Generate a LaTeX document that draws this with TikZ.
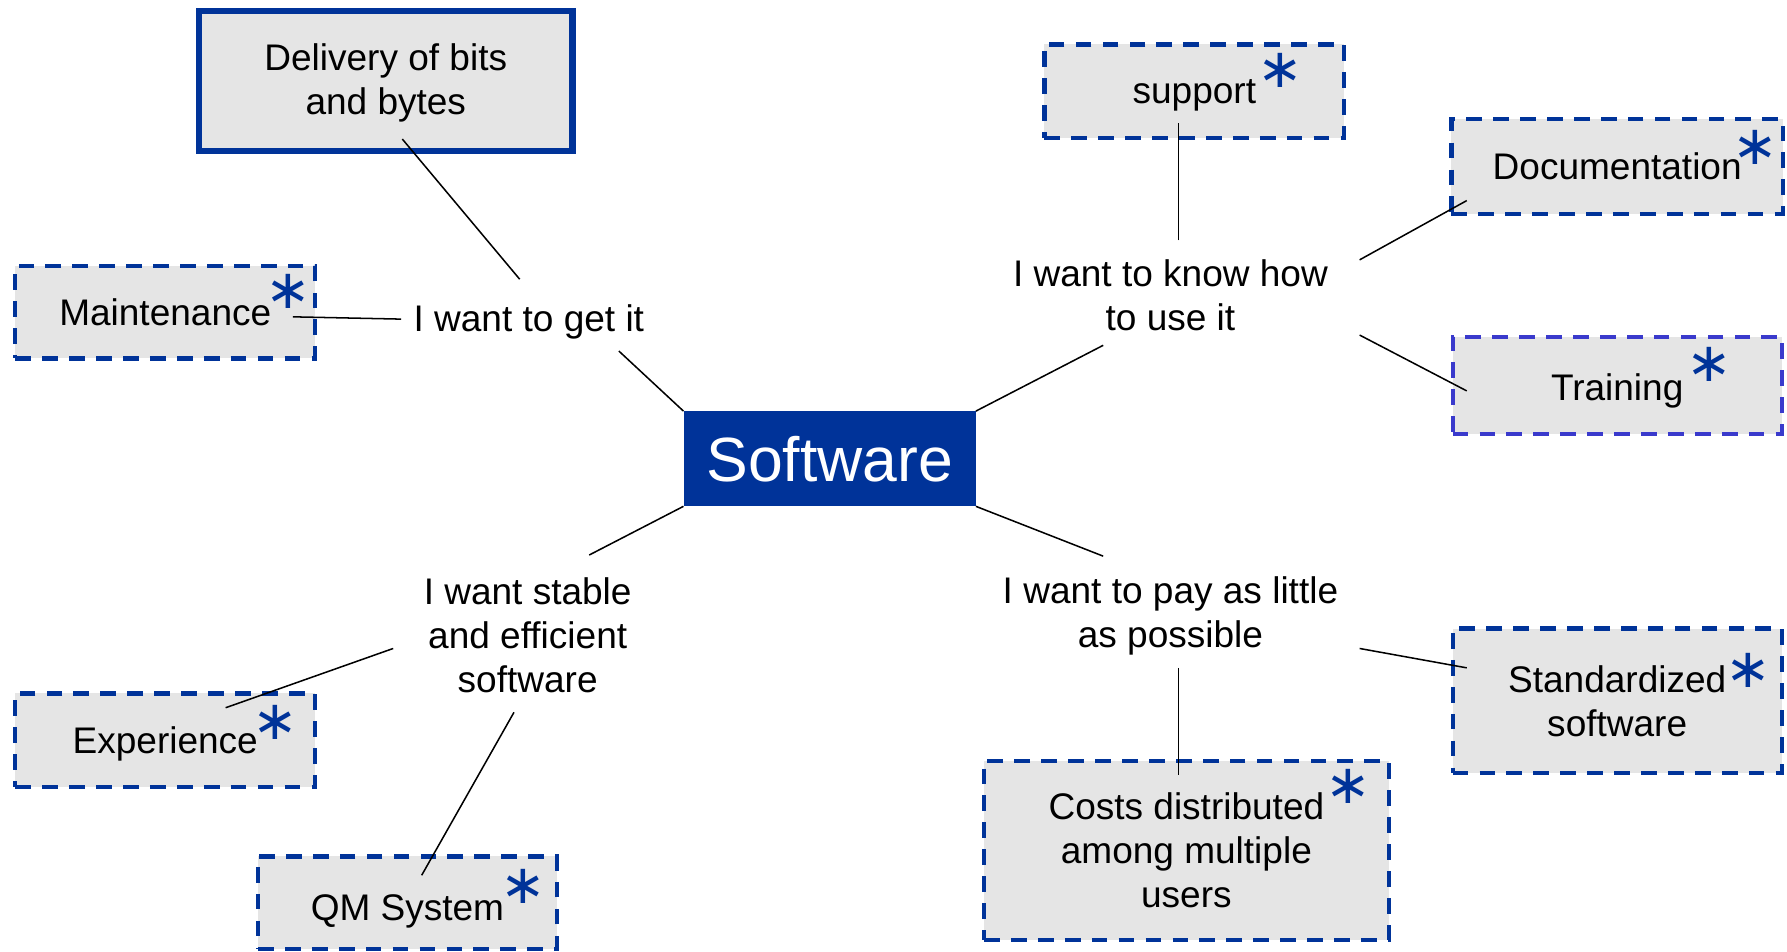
\documentclass[tikz,border=0pt]{standalone}
\usepackage{fontspec}
\setmainfont{Liberation Sans}
\newfontfamily\djv{DejaVu Sans}
\begin{document}
\begin{tikzpicture}[x=0.025cm,y=-0.025cm,
  every node/.style={font=\fontsize{23.1pt}{27.4pt}\selectfont, align=center, inner sep=0pt, text depth=0pt},
  bluebox/.style={draw=boxblue, fill=boxgray, line width=2.6pt, dash pattern=on 9.8pt off 7pt},
  hub/.style={text=black},
  conn/.style={draw=black, line width=0.95pt},
  ast/.style={text=boxblue, anchor=center, inner sep=0pt, text depth=0pt, font=\djv\fontsize{34pt}{34pt}\selectfont}
]
\definecolor{boxblue}{HTML}{003399}
\definecolor{trainblue}{HTML}{3A3ACC}
\definecolor{boxgray}{HTML}{E5E5E5}
\useasboundingbox (0,0) rectangle (1568,835);

% boxes
\node[draw=boxblue, fill=boxgray, line width=3.8pt, text depth=2.5pt, minimum width=8.19cm, minimum height=3.07cm] (deliv) at (338.5,71) {Delivery of bits\\and bytes};
\node[bluebox, minimum width=6.575cm, minimum height=2.025cm] (maint) at (145,274) {Maintenance};
\node[bluebox, minimum width=6.575cm, minimum height=2.05cm] (support) at (1048,80) {support};
\node[bluebox, minimum width=7.27cm, minimum height=2.07cm] (doc) at (1419,146) {Documentation};
\node[bluebox, draw=trainblue, text height=19.5pt, minimum width=7.22cm, minimum height=2.125cm] (train) at (1419,338) {Training};
\node[bluebox, minimum width=7.22cm, minimum height=3.175cm] (std) at (1419,615) {Standardized\\software};
\node[bluebox, minimum width=8.875cm, minimum height=3.925cm] (costs) at (1041,746) {Costs distributed\\among multiple\\users};
\node[bluebox, minimum width=6.575cm, minimum height=2.05cm] (exp) at (145,649.5) {Experience};
\node[bluebox, text height=22.5pt, minimum width=6.55cm, minimum height=2.025cm] (qm) at (357.5,792) {QM System};

% centre
\node[fill=boxblue, text=white, font=\fontsize{39pt}{45pt}\selectfont, minimum width=6.4cm, minimum height=2.075cm] (soft) at (728,402.5) {Software};

% hub texts
\node[hub] (get) at (464,279) {I want to get it};
\node[hub] (know) at (1027,259) {I want to know how\\to use it};
\node[hub] (pay) at (1027,537) {I want to pay as little\\as possible};
\node[hub] (stable) at (463,557) {I want stable\\and efficient\\software};

% asterisks
\node[ast] (a1) at (253,256) {∗};
\node[ast] (a2) at (1123,62) {∗};
\node[ast] (a3) at (1540,129) {∗};
\node[ast] (a4) at (1500,320) {∗};
\node[ast] (a5) at (1534,588) {∗};
\node[ast] (a6) at (1183,690) {∗};
\node[ast] (a7) at (242,634) {∗};
\node[ast] (a8) at (459,778) {∗};

% connectors
\draw[conn] ([shift={(14.5,51)}]deliv.center) -- ([shift={(-8,-34)}]get.center);
\draw[conn] ([shift={(112,4)}]maint.center) -- ([shift={(-112,1)}]get.center);
\draw[conn] ([shift={(79,29)}]get.center) -- (soft.north west);
\draw[conn] (soft.north east) -- ([shift={(-59,44)}]know.center);
\draw[conn] ([shift={(7,-48)}]know.center) -- ([shift={(-14,28)}]support.center);
\draw[conn] ([shift={(166,-31)}]know.center) -- ([shift={(-132,30)}]doc.center);
\draw[conn] ([shift={(166,35)}]know.center) -- ([shift={(-132,5)}]train.center);
\draw[conn] (soft.south east) -- ([shift={(-59,-49)}]pay.center);
\draw[conn] ([shift={(166,32)}]pay.center) -- ([shift={(-132,-29)}]std.center);
\draw[conn] ([shift={(7,49)}]pay.center) -- ([shift={(-7,-66)}]costs.center);
\draw[conn] (soft.south west) -- ([shift={(54,-70)}]stable.center);
\draw[conn] ([shift={(-118,12)}]stable.center) -- ([shift={(53,-28.5)}]exp.center);
\draw[conn] ([shift={(-12,68)}]stable.center) -- ([shift={(12.5,-24)}]qm.center);
\end{tikzpicture}
\end{document}
